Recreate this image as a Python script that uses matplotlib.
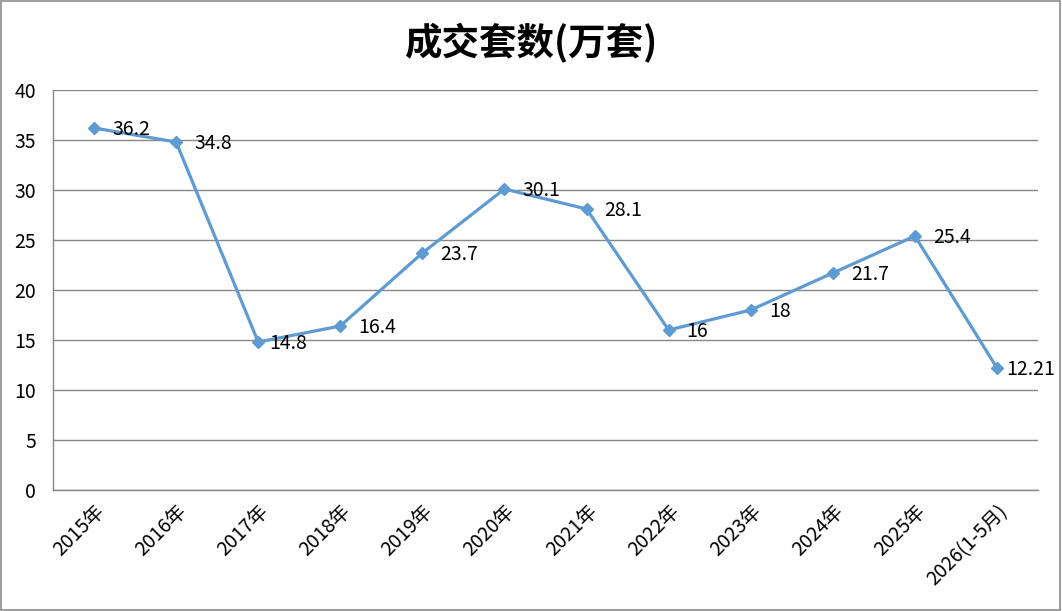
import matplotlib
matplotlib.use('Agg')
import matplotlib.pyplot as plt
from matplotlib.patches import Rectangle

plt.rcParams['font.family'] = ['Noto Sans CJK SC', 'DejaVu Sans']

categories = ['2015年', '2016年', '2017年', '2018年', '2019年', '2020年',
              '2021年', '2022年', '2023年', '2024年', '2025年', '2026(1-5月)']
values = [36.2, 34.8, 14.8, 16.4, 23.7, 30.1, 28.1, 16, 18, 21.7, 25.4, 12.21]
value_labels = ['36.2', '34.8', '14.8', '16.4', '23.7', '30.1', '28.1', '16', '18',
                '21.7', '25.4', '12.21']
yticks = [0, 5, 10, 15, 20, 25, 30, 35, 40]

line_color = '#5F9BD3'
grid_color = '#878787'


def main():
    fig = plt.figure(figsize=(10.62, 6.11), dpi=100)
    ax = fig.add_axes([0.0499, 0.198, 0.9275, 0.6547])

    x = list(range(len(categories)))
    ax.plot(x, values, color=line_color, linewidth=2.3, marker='D',
            markersize=6.5, zorder=3)
    # label gap in points (excel squeezes the crowded ones)
    gaps = [13, 13, 8, 13, 13, 13, 13, 13, 13, 13, 13, 6.5]
    for xi, v, lab, g in zip(x, values, value_labels, gaps):
        ax.annotate(lab, (xi, v), xytext=(g, -1), textcoords='offset points',
                    ha='left', va='center', fontsize=14, color='black', zorder=4)

    ax.set_xlim(-0.5, len(categories) - 0.5)
    ax.set_ylim(0, 40)
    ax.set_yticks(yticks)
    ax.set_yticklabels([str(t) for t in yticks], fontsize=14)
    ax.set_xticks(x)
    ax.set_xticklabels(categories, fontsize=14, rotation=45, ha='right',
                       rotation_mode='anchor')
    ax.tick_params(axis='both', length=0)
    ax.tick_params(axis='y', pad=12)
    ax.tick_params(axis='x', pad=8)

    ax.yaxis.grid(True, color=grid_color, linewidth=1.0)
    ax.set_axisbelow(True)
    for side in ['top', 'right']:
        ax.spines[side].set_visible(False)
    for side in ['left', 'bottom']:
        ax.spines[side].set_color(grid_color)
        ax.spines[side].set_linewidth(1.0)

    fig.text(0.5, 0.930, '成交套数(万套)', ha='center', va='center',
             fontsize=27, fontweight='bold')

    fig.patches.append(Rectangle((0.001, 0.002), 0.997, 0.996, transform=fig.transFigure,
                                 fill=False, edgecolor='#8c8c8c', linewidth=1.2))

    fig.savefig('out.png', dpi=100)


if __name__ == "__main__":
    main()
